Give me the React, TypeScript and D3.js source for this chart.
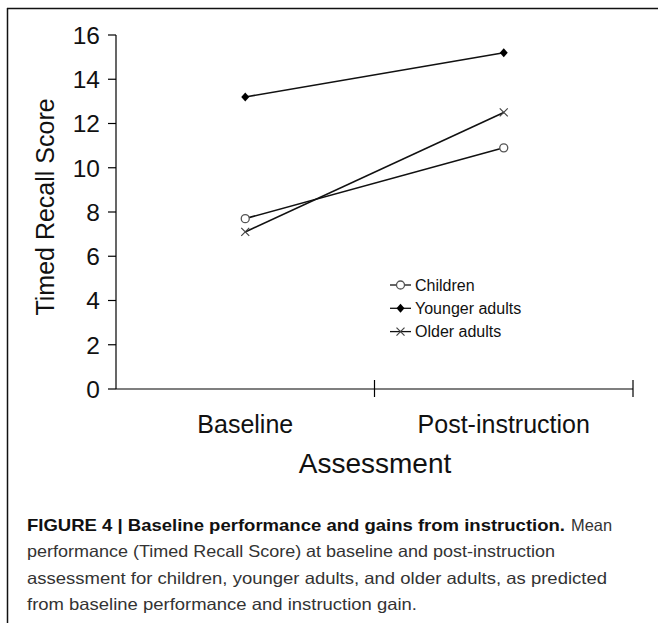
import React from "react";
import * as d3 from "d3";

const categories = ["Baseline", "Post-instruction"];
const seriesNames = ["Children", "Younger adults", "Older adults"];
const children = [7.7, 10.9];
const youngerAdults = [13.2, 15.2];
const olderAdults = [7.1, 12.5];
const yTicks = [0, 2, 4, 6, 8, 10, 12, 14, 16];
const captionBold = "FIGURE 4 | Baseline performance and gains from instruction.";
const captionLines = [
  "Mean",
  "performance (Timed Recall Score) at baseline and post-instruction",
  "assessment for children, younger adults, and older adults, as predicted",
  "from baseline performance and instruction gain.",
];
const captionWidths = [528, 580, 390];

const W = 658;
const H = 623;
const FONT = "'Liberation Sans', Arial, Helvetica, sans-serif";

function Marker({ kind, x, y }: { kind: string; x: number; y: number }) {
  if (kind === "circle")
    return <circle cx={x} cy={y} r={4} fill="#fff" stroke="#555" strokeWidth={1.3} />;
  if (kind === "diamond")
    return (
      <path
        d={`M${x},${y - 4.5}L${x + 4},${y}L${x},${y + 4.5}L${x - 4},${y}Z`}
        fill="#000"
      />
    );
  return (
    <path
      d={`M${x - 4},${y - 4}L${x + 4},${y + 4}M${x - 4},${y + 4}L${x + 4},${y - 4}`}
      stroke="#444"
      strokeWidth={1.2}
      fill="none"
    />
  );
}

export default function App() {
  const x = d3.scaleBand<string>().domain(categories).range([116, 633]);
  const y = d3.scaleLinear().domain([0, 16]).range([389, 35]);
  const cx = (c: string) => (x(c) as number) + x.bandwidth() / 2;
  const line = d3
    .line<number>()
    .x((_, i) => cx(categories[i]))
    .y((v) => y(v));

  const series = [
    { name: seriesNames[0], values: children, kind: "circle" },
    { name: seriesNames[1], values: youngerAdults, kind: "diamond" },
    { name: seriesNames[2], values: olderAdults, kind: "x" },
  ];

  const xTickPositions = categories.map((c) => (x(c) as number) + x.bandwidth());

  return (
    <svg
      width={W}
      height={H}
      style={{ position: "absolute", left: 0, top: 0, background: "#fff" }}
      fontFamily={FONT}
    >
      <rect x={0} y={0} width={W} height={H} fill="#fff" />
      {/* frame */}
      <line x1={7} y1={8.5} x2={W} y2={8.5} stroke="#111" strokeWidth={1.5} />
      <line x1={7.5} y1={8} x2={7.5} y2={H} stroke="#111" strokeWidth={1.5} />

      {/* y axis */}
      <line x1={116} y1={y(16)} x2={116} y2={y(0)} stroke="#000" strokeWidth={1.2} />
      {yTicks.map((t) => (
        <g key={t}>
          <line x1={108} x2={116} y1={y(t)} y2={y(t)} stroke="#000" strokeWidth={1.2} />
          <text x={100} y={y(t)} dy="0.36em" textAnchor="end" fontSize={24.5} fill="#111">
            {t}
          </text>
        </g>
      ))}
      <text
        transform={`translate(54,${207}) rotate(-90)`}
        textAnchor="middle"
        fontSize={25}
        fill="#111"
      >
        Timed Recall Score
      </text>

      {/* x axis */}
      <line x1={116} x2={633} y1={y(0)} y2={y(0)} stroke="#000" strokeWidth={1.2} />
      {xTickPositions.map((p, i) => (
        <line key={i} x1={p} x2={p} y1={380} y2={397} stroke="#000" strokeWidth={1.2} />
      ))}
      {categories.map((c) => (
        <text key={c} x={cx(c)} y={433} textAnchor="middle" fontSize={25} fill="#111">
          {c}
        </text>
      ))}
      <text x={375} y={473} textAnchor="middle" fontSize={28} fill="#111">
        Assessment
      </text>

      {/* series */}
      {series.map((s) => (
        <g key={s.name}>
          <path d={line(s.values) || ""} fill="none" stroke="#111" strokeWidth={1.6} />
          {s.values.map((v, i) => (
            <Marker key={i} kind={s.kind} x={cx(categories[i])} y={y(v)} />
          ))}
        </g>
      ))}

      {/* legend */}
      {series.map((s, i) => {
        const ly = 285 + i * 23.3;
        return (
          <g key={s.name}>
            <line x1={390} x2={411} y1={ly} y2={ly} stroke="#111" strokeWidth={1.3} />
            <Marker kind={s.kind} x={400.5} y={ly} />
            <text x={415} y={ly} dy="0.36em" fontSize={16} fill="#111">
              {s.name}
            </text>
          </g>
        );
      })}

      {/* caption */}
      <text
        x={27}
        y={531}
        fontSize={16.5}
        fontWeight="bold"
        fill="#111"
        textLength={538}
        lengthAdjust="spacingAndGlyphs"
      >
        {captionBold}
      </text>
      <text x={571} y={531} fontSize={16.5} fill="#333" textLength={41} lengthAdjust="spacingAndGlyphs">
        {captionLines[0]}
      </text>
      {captionLines.slice(1).map((t, i) => (
        <text
          key={i}
          x={27}
          y={557 + i * 26.5}
          fontSize={16.5}
          fill="#333"
          textLength={captionWidths[i]}
          lengthAdjust="spacingAndGlyphs"
        >
          {t}
        </text>
      ))}
    </svg>
  );
}
